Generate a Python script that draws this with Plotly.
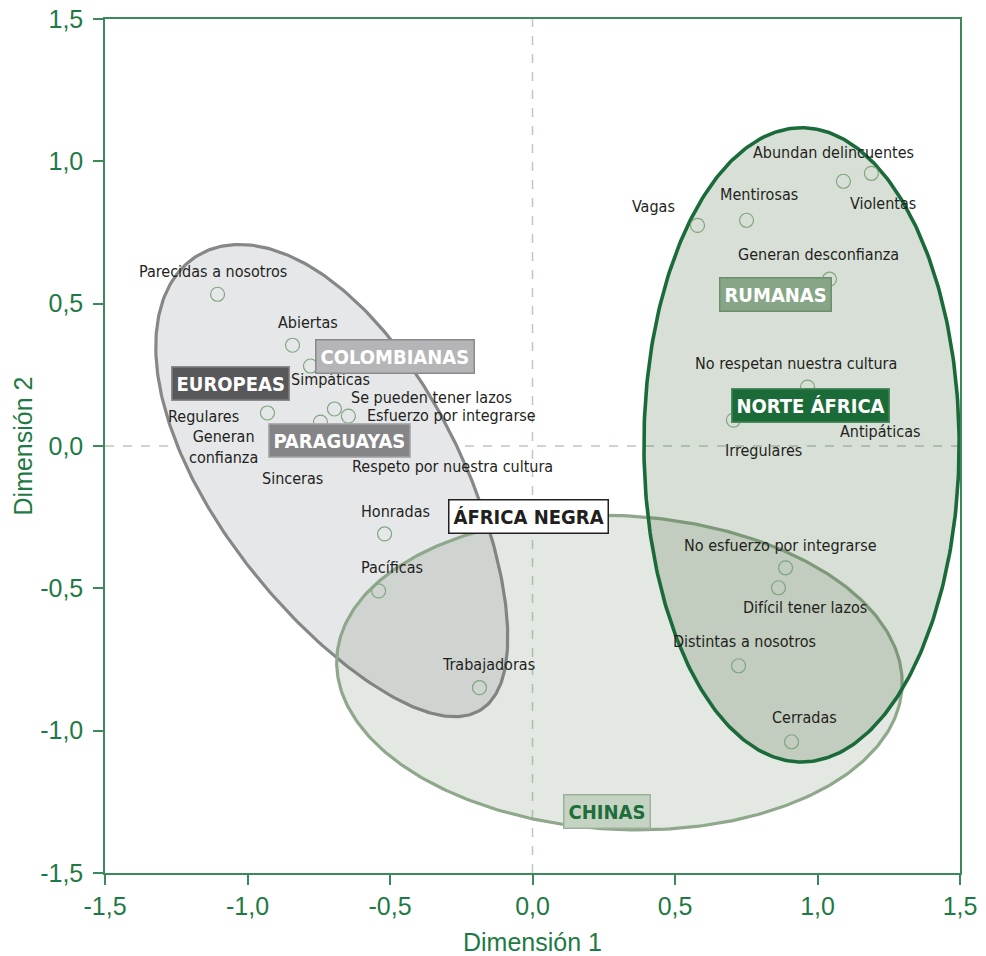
import numpy as np
import plotly.graph_objects as go

# ---------------- data ----------------
attr_names = [
    "Parecidas a nosotros", "Abiertas", "Simpáticas", "Se pueden tener lazos",
    "Esfuerzo por integrarse", "Regulares", "Generan<br>confianza", "Sinceras",
    "Respeto por nuestra cultura", "Honradas", "Pacíficas", "Trabajadoras",
    "Vagas", "Mentirosas", "Abundan delincuentes", "Violentas",
    "Generan desconfianza", "No respetan nuestra cultura", "Antipáticas",
    "Irregulares", "No esfuerzo por integrarse", "Difícil tener lazos",
    "Distintas a nosotros", "Cerradas",
]
dim1 = [-1.105, -0.842, -0.779, -0.695, -0.646, -0.930, -0.790, -0.744,
        -0.600, -0.519, -0.540, -0.186, 0.579, 0.751, 1.091, 1.189,
        1.042, 0.965, 1.100, 0.705, 0.888, 0.863, 0.723, 0.909]
dim2 = [0.533, 0.354, 0.281, 0.130, 0.105, 0.116, 0.050, 0.084,
        0.040, -0.309, -0.509, -0.849, 0.775, 0.793, 0.930, 0.958,
        0.586, 0.207, 0.130, 0.091, -0.428, -0.498, -0.772, -1.039]

group_names = ["EUROPEAS", "COLOMBIANAS", "PARAGUAYAS", "ÁFRICA NEGRA",
               "RUMANAS", "NORTE ÁFRICA", "CHINAS"]
group_x = [-1.060, -0.484, -0.677, -0.014, 0.853, 0.975, 0.263]
group_y = [0.218, 0.316, 0.021, -0.249, 0.533, 0.144, -1.284]

# ellipses (center, semi-axes, rotation in degrees, egg factor)
ell_cx = [-0.680, 0.305, 0.944]
ell_cy = [-0.130, -0.796, 0.004]
ell_a = [0.940, 0.993, 1.114]
ell_b = [0.430, 0.551, 0.553]
ell_ang = [-58.0, -3.0, 90.0]
ell_egg = [-0.14, 0.0, 0.0]

tick_vals = [-1.5, -1.0, -0.5, 0.0, 0.5, 1.0, 1.5]
tick_text = ["-1,5", "-1,0", "-0,5", "0,0", "0,5", "1,0", "1,5"]

# ---------------- styles ----------------
GREEN = "#1e7a44"
AXIS_GREEN = "#3a8a5c"
LABEL_FONT = "Liberation Sans Narrow, DejaVu Sans Condensed, Roboto Condensed, Liberation Sans, sans-serif"
TICK_FONT = "Liberation Sans, Arial, sans-serif"

ell_line = ["#868788", "#8fa88c", "#1b6b3a"]
ell_fill = ["rgba(230,231,233,1)", "rgba(105,130,100,0.18)", "rgba(60,97,50,0.2)"]
ell_width = [3.2, 3.2, 3.6]

# label placement: (xshift, yshift, xanchor)
label_pos = {
    "Parecidas a nosotros": (-5, 23, "center"),
    "Abiertas": (15, 23, "center"),
    "Simpáticas": (20, -13, "center"),
    "Se pueden tener lazos": (15, 11, "left"),
    "Esfuerzo por integrarse": (17, 1, "left"),
    "Regulares": (-26, -4, "right"),
    "Generan<br>confianza": (-47, -15, "right"),
    "Sinceras": (-28, -56, "center"),
    "Respeto por nuestra cultura": (-12, -32, "left"),
    "Honradas": (11, 22, "center"),
    "Pacíficas": (13, 23, "center"),
    "Trabajadoras": (9, 23, "center"),
    "Vagas": (-44, 19, "center"),
    "Mentirosas": (12, 26, "center"),
    "Abundan delincuentes": (-10, 29, "center"),
    "Violentas": (12, -30, "center"),
    "Generan desconfianza": (-11, 25, "center"),
    "No respetan nuestra cultura": (-12, 24, "center"),
    "Antipáticas": (34, -23, "center"),
    "Irregulares": (30, -30, "center"),
    "No esfuerzo por integrarse": (-5, 22, "center"),
    "Difícil tener lazos": (27, -20, "center"),
    "Distintas a nosotros": (6, 24, "center"),
    "Cerradas": (13, 24, "center"),
}

group_style = {
    "EUROPEAS": ("#58585a", "#8c8c8e", "white"),
    "COLOMBIANAS": ("#b5b5b7", "#8a8a8c", "white"),
    "PARAGUAYAS": ("#858587", "#b0b0b2", "white"),
    "ÁFRICA NEGRA": ("white", "#231f20", "#231f20"),
    "RUMANAS": ("#87a687", "#6e8f6e", "white"),
    "NORTE ÁFRICA": ("#1a6b37", "#4d8a60", "white"),
    "CHINAS": ("#c5d3c3", "#9db09b", "#1e6e3c"),
}

fig = go.Figure()

# ellipses
t = np.linspace(0, 2 * np.pi, 361)
for cx, cy, a, b, ang, k, lc, fc, w in zip(ell_cx, ell_cy, ell_a, ell_b, ell_ang,
                                            ell_egg, ell_line, ell_fill, ell_width):
    th = np.deg2rad(ang)
    u = a * np.cos(t)
    v = b * np.sin(t) * (1 + k * np.cos(t))
    xs = cx + u * np.cos(th) - v * np.sin(th)
    ys = cy + u * np.sin(th) + v * np.cos(th)
    fig.add_trace(go.Scatter(x=xs, y=ys, mode="lines", fill="toself",
                             fillcolor=fc, line=dict(color=lc, width=w),
                             hoverinfo="skip", showlegend=False))

# points
fig.add_trace(go.Scatter(
    x=dim1, y=dim2, mode="markers",
    marker=dict(symbol="circle-open", size=14, color="#7fa67f",
                line=dict(width=1.2, color="#7fa67f")),
    text=attr_names, hoverinfo="text", showlegend=False))

annotations = []
for name, x, y in zip(attr_names, dim1, dim2):
    xs, ys, anc = label_pos[name]
    annotations.append(dict(
        x=x, y=y, xref="x", yref="y", text=name, showarrow=False,
        xshift=xs, yshift=ys, xanchor=anc, yanchor="middle",
        font=dict(family=LABEL_FONT, size=16, color="#231f20"),
        align="center"))

for name, x, y in zip(group_names, group_x, group_y):
    bg, bc, tc = group_style[name]
    annotations.append(dict(
        x=x, y=y, xref="x", yref="y", text="<b>" + name + "</b>",
        showarrow=False, xanchor="center", yanchor="middle",
        bgcolor=bg, bordercolor=bc, borderwidth=1.5, borderpad=4,
        font=dict(family=LABEL_FONT, size=20, color=tc)))

shapes = [
    dict(type="line", xref="x", yref="paper", x0=0, x1=0, y0=0, y1=1,
         line=dict(color="#bccabc", width=1.5, dash="dash"), layer="below"),
    dict(type="line", xref="paper", yref="y", x0=0, x1=1, y0=0, y1=0,
         line=dict(color="#bccabc", width=1.5, dash="dash"), layer="below"),
]

axis_common = dict(
    range=[-1.5, 1.5], tickvals=tick_vals, ticktext=tick_text,
    showgrid=False, zeroline=False, showline=True, linecolor=AXIS_GREEN,
    linewidth=1.5, mirror=True, ticks="outside", ticklen=10,
    tickcolor=AXIS_GREEN, tickwidth=1.5, automargin=False,
    ticklabeloverflow="allow",
    tickfont=dict(family=TICK_FONT, size=25, color=GREEN),
)

fig.update_layout(
    width=986, height=956,
    margin=dict(l=105, r=26, t=19, b=83),
    paper_bgcolor="white", plot_bgcolor="white",
    xaxis=dict(**axis_common,
               title=dict(text="Dimensión 1", standoff=22,
                          font=dict(family=TICK_FONT, size=25, color=GREEN))),
    yaxis=dict(**axis_common, ticklabelstandoff=5,
               title=dict(text="Dimensión 2", standoff=0,
                          font=dict(family=TICK_FONT, size=25, color=GREEN))),
    annotations=annotations,
    shapes=shapes,
)

# remove the default page margin so the figure fills the window exactly
fig.write_html("out.html",
               config={"displayModeBar": False},
               post_script="document.body.style.margin='0';")
